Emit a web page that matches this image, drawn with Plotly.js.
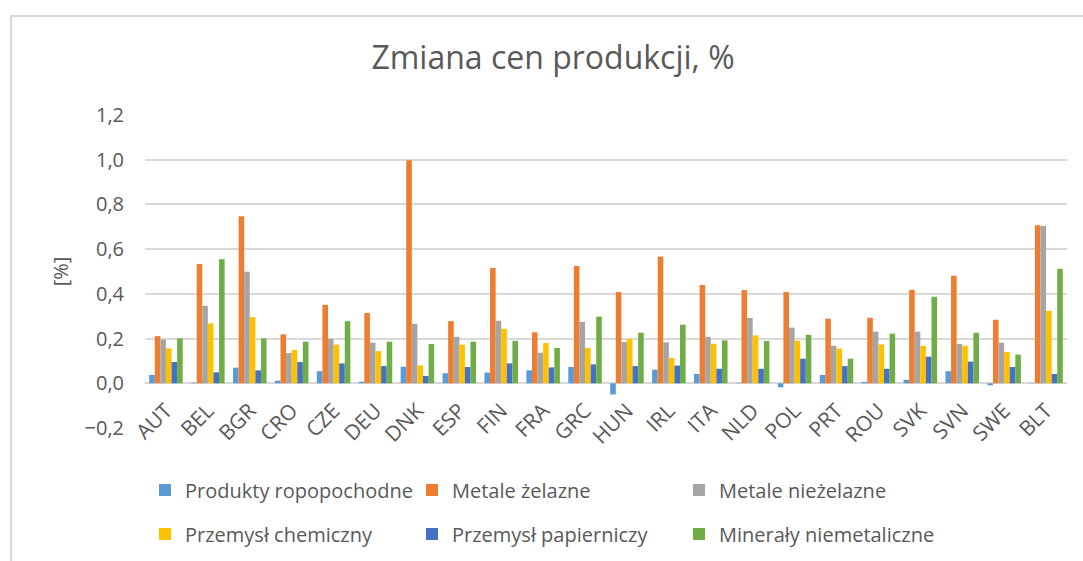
<!DOCTYPE html>
<html>
<head>
<meta charset="utf-8">
<script src="https://cdn.plot.ly/plotly-3.0.1.min.js"></script>
<style>
  html, body { margin: 0; padding: 0; background: #fff; overflow: hidden; }
  #chart { position: absolute; left: 0; top: 0; width: 1083px; height: 561px; }
  #frame { position: absolute; left: 10px; top: 15px; width: 1200px; height: 700px;
           border: 2px solid #d9d9d9; pointer-events: none; }
</style>
</head>
<body>
<div id="chart"></div>
<div id="frame"></div>
<script>
const categories = ["AUT","BEL","BGR","CRO","CZE","DEU","DNK","ESP","FIN","FRA","GRC","HUN","IRL","ITA","NLD","POL","PRT","ROU","SVK","SVN","SWE","BLT"];

const produktyRopopochodne = [0.037,0.003,0.070,0.012,0.054,0.007,0.074,0.045,0.048,0.058,0.073,-0.050,0.061,0.042,0.002,-0.018,0.037,0.006,0.016,0.054,-0.009,0.001];
const metaleZelazne        = [0.211,0.534,0.747,0.219,0.351,0.315,0.998,0.278,0.516,0.228,0.525,0.408,0.567,0.440,0.417,0.408,0.289,0.293,0.418,0.481,0.284,0.707];
const metaleNiezelazne     = [0.195,0.347,0.499,0.135,0.199,0.182,0.266,0.208,0.280,0.137,0.275,0.185,0.183,0.208,0.292,0.249,0.168,0.231,0.231,0.176,0.182,0.704];
const przemyslChemiczny    = [0.156,0.268,0.296,0.149,0.173,0.144,0.080,0.173,0.244,0.180,0.158,0.199,0.113,0.177,0.214,0.190,0.155,0.174,0.167,0.168,0.140,0.324];
const przemyslPapierniczy  = [0.095,0.049,0.058,0.095,0.089,0.077,0.033,0.073,0.089,0.071,0.085,0.077,0.079,0.065,0.065,0.110,0.077,0.065,0.119,0.097,0.073,0.042];
const mineralyNiemetaliczne= [0.201,0.555,0.201,0.186,0.278,0.186,0.176,0.186,0.190,0.158,0.298,0.226,0.262,0.192,0.189,0.217,0.110,0.222,0.387,0.226,0.128,0.512];

const seriesNames = ["Produkty ropopochodne","Metale żelazne","Metale nieżelazne","Przemysł chemiczny","Przemysł papierniczy","Minerały niemetaliczne"];
const seriesValues = [produktyRopopochodne, metaleZelazne, metaleNiezelazne, przemyslChemiczny, przemyslPapierniczy, mineralyNiemetaliczne];
const seriesColors = ["#5B9BD5","#ED7D31","#A5A5A5","#FFC000","#4472C4","#70AD47"];
const legendIds = ["legend","legend","legend","legend2","legend2","legend2"];

const FONT = "Open Sans, Noto Sans, sans-serif";
const TXT = "#595959";

const traces = seriesNames.map((name, i) => ({
  type: "bar",
  name: name,
  x: categories,
  y: seriesValues[i],
  marker: { color: seriesColors[i], line: { width: 0 } },
  legend: legendIds[i],
  hoverinfo: "x+y+name"
}));

const legendCommon = {
  orientation: "h",
  xanchor: "left",
  yanchor: "middle",
  x: 0.0,
  entrywidth: 222,
  entrywidthmode: "pixels",
  itemwidth: 30,
  font: { family: FONT, size: 20, color: TXT },
  bgcolor: "rgba(0,0,0,0)",
  traceorder: "normal"
};

const layout = {
  width: 1083,
  height: 561,
  paper_bgcolor: "#ffffff",
  plot_bgcolor: "#ffffff",
  margin: { l: 145, r: 16, t: 115, b: 133, pad: 0, autoexpand: false },
  separators: ", ",
  barmode: "group",
  bargap: 0.2,
  bargroupgap: 0,
  title: {
    text: "Zmiana cen produkcji, %",
    font: { family: FONT, size: 32, color: TXT },
    x: 553 / 1083, xanchor: "center", xref: "container",
    y: 62, yref: "container", yanchor: "middle"
  },
  xaxis: {
    type: "category",
    anchor: "free",
    position: 0.2 / 1.4,
    showgrid: false,
    showline: false,
    zeroline: false,
    ticks: "",
    tickangle: -45,
    ticklabelstandoff: 10,
    tickfont: { family: FONT, size: 21, color: TXT },
    automargin: false,
    fixedrange: true
  },
  yaxis: {
    range: [-0.2, 1.2],
    dtick: 0.2,
    tick0: 0,
    tickformat: ".1f",
    showgrid: true,
    gridcolor: "#d9d9d9",
    gridwidth: 2,
    zeroline: true,
    zerolinecolor: "#d9d9d9",
    zerolinewidth: 2,
    showline: false,
    ticks: "",
    ticklabelstandoff: 20,
    tickfont: { family: FONT, size: 20, color: TXT },
    title: { text: "[%]", font: { family: FONT, size: 20, color: TXT }, standoff: 10 },
    automargin: false,
    fixedrange: true
  },
  legend: Object.assign({}, legendCommon, { y: -0.198 }),
  legend2: Object.assign({}, legendCommon, { y: -0.339 }),
  showlegend: true
};

Plotly.newPlot("chart", traces, layout, { displayModeBar: false, staticPlot: true });
</script>
</body>
</html>
